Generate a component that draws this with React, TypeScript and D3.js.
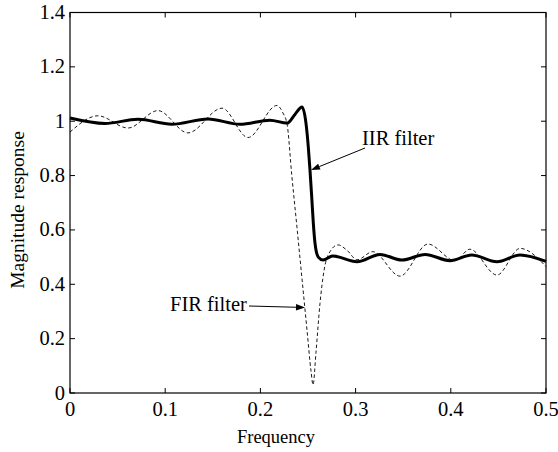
import React from "react";
import * as d3 from "d3";

const xTicks = [0, 0.1, 0.2, 0.3, 0.4, 0.5];
const yTicks = [0, 0.2, 0.4, 0.6, 0.8, 1, 1.2, 1.4];
const xTickLabels = ["0", "0.1", "0.2", "0.3", "0.4", "0.5"];
const yTickLabels = ["0", "0.2", "0.4", "0.6", "0.8", "1", "1.2", "1.4"];

// IIR filter magnitude response (thick solid)
const iirFreq = [0, 0.0368, 0.0714, 0.107, 0.145, 0.1786, 0.21, 0.228, 0.2363, 0.2437, 0.2479, 0.2503, 0.2521, 0.2539, 0.2556, 0.2574, 0.2608, 0.2658, 0.276, 0.3015, 0.3256, 0.3487, 0.373, 0.399, 0.422, 0.4485, 0.4727, 0.5];
const iirMag = [1.012, 0.992, 1.007, 0.989, 1.008, 0.989, 1.004, 0.993, 1.025, 1.052, 0.992, 0.906, 0.82, 0.722, 0.624, 0.55, 0.5, 0.489, 0.504, 0.483, 0.51, 0.489, 0.51, 0.487, 0.508, 0.483, 0.508, 0.484];

// FIR filter magnitude response (thin dashed)
const firFreq = [0, 0.0294, 0.0609, 0.0924, 0.1239, 0.1597, 0.187, 0.2174, 0.2237, 0.228, 0.233, 0.2384, 0.2437, 0.249, 0.2532, 0.2553, 0.2584, 0.2626, 0.2668, 0.2731, 0.2815, 0.291, 0.3015, 0.318, 0.3466, 0.376, 0.4044, 0.42, 0.4485, 0.4727, 0.5];
const firMag = [0.96, 1.02, 0.975, 1.039, 0.957, 1.048, 0.94, 1.058, 1.03, 0.99, 0.8, 0.61, 0.42, 0.23, 0.08, 0.03, 0.15, 0.33, 0.45, 0.52, 0.545, 0.525, 0.49, 0.52, 0.43, 0.548, 0.487, 0.529, 0.434, 0.532, 0.465];

const W = 558;
const H = 452;
const M = { left: 70, right: 12, top: 12.5, bottom: 59 };

export default function App() {
  const x = d3.scaleLinear().domain([0, 0.5]).range([M.left, W - M.right]);
  const y = d3.scaleLinear().domain([0, 1.4]).range([H - M.bottom, M.top]);
  const line = d3
    .line<[number, number]>()
    .x((d) => x(d[0]))
    .y((d) => y(d[1]))
    .curve(d3.curveMonotoneX);
  const iirPts: [number, number][] = iirFreq.map((f, i) => [f, iirMag[i]]);
  const firPts: [number, number][] = firFreq.map((f, i) => [f, firMag[i]]);
  const font = "'Liberation Serif', 'Times New Roman', serif";
  const x0 = x(0), x1 = x(0.5), y0 = y(0), y1 = y(1.4);
  const tl = 5;

  const arrow = (ax: number, ay: number, bx: number, by: number) => {
    const ang = Math.atan2(by - ay, bx - ax);
    const len = 9, hw = 3.2;
    const px = bx - len * Math.cos(ang), py = by - len * Math.sin(ang);
    const nx = -Math.sin(ang) * hw, ny = Math.cos(ang) * hw;
    return (
      <g>
        <line x1={ax} y1={ay} x2={px} y2={py} stroke="#000" strokeWidth={1} />
        <path d={`M${bx},${by}L${px + nx},${py + ny}L${px - nx},${py - ny}Z`} fill="#000" />
      </g>
    );
  };

  return (
    <svg width={W} height={H} style={{ position: "absolute", left: 0, top: 0, background: "#fff" }} fontFamily={font}>
      <rect x={0} y={0} width={W} height={H} fill="#fff" />
      {/* ticks */}
      {xTicks.map((t, i) => (
        <g key={"xt" + i}>
          <line x1={x(t)} x2={x(t)} y1={y0} y2={y0 - tl} stroke="#000" />
          <line x1={x(t)} x2={x(t)} y1={y1} y2={y1 + tl} stroke="#000" />
          <text x={x(t)} y={y0 + 23} fontSize={20.5} textAnchor="middle">{xTickLabels[i]}</text>
        </g>
      ))}
      {yTicks.map((t, i) => (
        <g key={"yt" + i}>
          <line x1={x0} x2={x0 + tl} y1={y(t)} y2={y(t)} stroke="#000" />
          <line x1={x1} x2={x1 - tl} y1={y(t)} y2={y(t)} stroke="#000" />
          <text x={x0 - 5} y={y(t) + 6.5} fontSize={20.5} textAnchor="end">{yTickLabels[i]}</text>
        </g>
      ))}
      <rect x={x0} y={y1} width={x1 - x0} height={y0 - y1} fill="none" stroke="#000" strokeWidth={1.2} />
      {/* curves */}
      <path d={line(firPts) || ""} fill="none" stroke="#000" strokeWidth={0.9} strokeDasharray="3.5,2.5" />
      <path d={line(iirPts) || ""} fill="none" stroke="#000" strokeWidth={3} strokeLinejoin="round" />
      {/* annotations */}
      {arrow(365, 148, 311, 170)}
      <text x={362} y={145} fontSize={20.5}>IIR filter</text>
      {arrow(249, 306, 305, 307.5)}
      <text x={170} y={311} fontSize={20.5}>FIR filter</text>
      {/* axis labels */}
      <text x={276} y={443} fontSize={18.5} textAnchor="middle">Frequency</text>
      <text transform={`translate(24,210) rotate(-90)`} fontSize={19.5} textAnchor="middle">Magnitude response</text>
    </svg>
  );
}
